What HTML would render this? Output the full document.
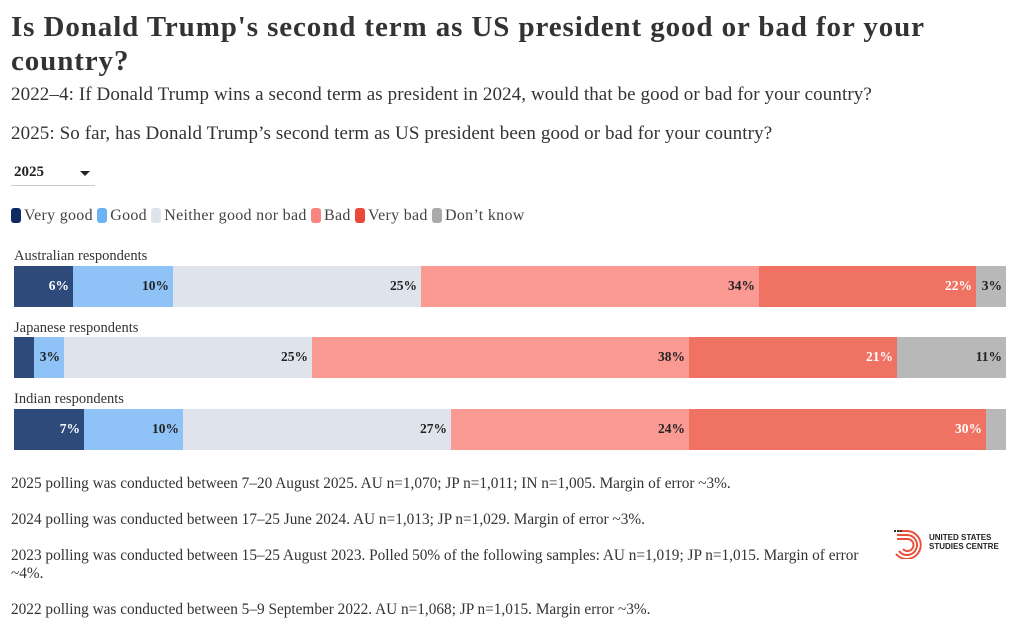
<!DOCTYPE html>
<html><head><meta charset="utf-8"><style>
body{margin:0;width:1020px;height:630px;background:#fff;font-family:"Liberation Serif",serif;color:#222;position:relative;overflow:hidden}
.a{position:absolute;white-space:nowrap}
.t{left:11px;top:10px;font-size:29px;letter-spacing:0.9px;font-weight:bold;line-height:34px;white-space:normal;width:960px;color:#333}
.s{left:11px;font-size:19px;letter-spacing:0.1px;color:#333}
.seg{position:absolute;height:41px}
.lab{position:absolute;font-size:13.5px;font-weight:bold;top:12px;right:4px}
.rl{font-size:14.5px;left:14px;color:#333}
.n{font-size:15.3px;left:11px;color:#333}
.sw{display:inline-block;width:10px;height:15px;border-radius:3px;vertical-align:-3px;margin-right:3px}
</style></head><body>
<div class="a t">Is Donald Trump's second term as US president good or bad for your country?</div>
<div class="a s" style="top:84px">2022–4: If Donald Trump wins a second term as president in 2024, would that be good or bad for your country?</div>
<div class="a s" style="top:123px">2025: So far, has Donald Trump’s second term as US president been good or bad for your country?</div>
<div class="a" style="left:14px;top:164px;font-size:15px;font-weight:bold">2025</div>
<div class="a" style="left:80px;top:171px;width:0;height:0;border-left:5px solid transparent;border-right:5px solid transparent;border-top:5px solid #222"></div>
<div class="a" style="left:11px;top:185px;width:84px;height:1px;background:#ccc"></div>
<div class="a" style="left:11px;top:207px;font-size:16px;letter-spacing:0.3px;color:#444">
<span class="sw" style="background:#0d2a63"></span>Very good <span class="sw" style="background:#6cb3f5"></span>Good <span class="sw" style="background:#dfe3ec"></span>Neither good nor bad <span class="sw" style="background:#f98580"></span>Bad <span class="sw" style="background:#e94a38"></span>Very bad <span class="sw" style="background:#aaa"></span>Don’t know</div>

<div class="a rl" style="top:248px">Australian respondents</div>
<div class="a rl" style="top:320px">Japanese respondents</div>
<div class="a rl" style="top:391px">Indian respondents</div>

<div style="position:absolute;top:266px;left:0">
<div class="seg" style="left:14px;width:59px;background:#2d4a7a"><span class="lab" style="color:#fff">6%</span></div>
<div class="seg" style="left:73px;width:100px;background:#8fc3f7"><span class="lab">10%</span></div>
<div class="seg" style="left:173px;width:248px;background:#dfe3ec"><span class="lab">25%</span></div>
<div class="seg" style="left:421px;width:338px;background:#fb9a93"><span class="lab">34%</span></div>
<div class="seg" style="left:759px;width:217px;background:#f07262"><span class="lab" style="color:#fff">22%</span></div>
<div class="seg" style="left:976px;width:30px;background:#b8b8b8"><span class="lab">3%</span></div>
</div>
<div style="position:absolute;top:337px;left:0">
<div class="seg" style="left:14px;width:20px;background:#2d4a7a"></div>
<div class="seg" style="left:34px;width:30px;background:#8fc3f7"><span class="lab">3%</span></div>
<div class="seg" style="left:64px;width:248px;background:#dfe3ec"><span class="lab">25%</span></div>
<div class="seg" style="left:312px;width:377px;background:#fb9a93"><span class="lab">38%</span></div>
<div class="seg" style="left:689px;width:208px;background:#f07262"><span class="lab" style="color:#fff">21%</span></div>
<div class="seg" style="left:897px;width:109px;background:#b8b8b8"><span class="lab">11%</span></div>
</div>
<div style="position:absolute;top:409px;left:0">
<div class="seg" style="left:14px;width:70px;background:#2d4a7a"><span class="lab" style="color:#fff">7%</span></div>
<div class="seg" style="left:84px;width:99px;background:#8fc3f7"><span class="lab">10%</span></div>
<div class="seg" style="left:183px;width:268px;background:#dfe3ec"><span class="lab">27%</span></div>
<div class="seg" style="left:451px;width:238px;background:#fb9a93"><span class="lab">24%</span></div>
<div class="seg" style="left:689px;width:297px;background:#f07262"><span class="lab" style="color:#fff">30%</span></div>
<div class="seg" style="left:986px;width:20px;background:#b8b8b8"></div>
</div>

<div class="a n" style="top:475px">2025 polling was conducted between 7–20 August 2025. AU n=1,070; JP n=1,011; IN n=1,005. Margin of error ~3%.</div>
<div class="a n" style="top:511px">2024 polling was conducted between 17–25 June 2024. AU n=1,013; JP n=1,029. Margin of error ~3%.</div>
<div class="a n" style="top:547px;white-space:normal;width:865px;line-height:18px">2023 polling was conducted between 15–25 August 2023. Polled 50% of the following samples: AU n=1,019; JP n=1,015. Margin of error ~4%.</div>
<div class="a n" style="top:601px">2022 polling was conducted between 5–9 September 2022. AU n=1,068; JP n=1,015. Margin error ~3%.</div>

<svg class="a" style="left:893px;top:529px" width="30" height="30" viewBox="0 0 30 30">
<g fill="none" stroke="#e8503a" stroke-width="2">
<path d="M4 10 H14 A6 6 0 1 1 10 20"/><path d="M4 6 H14 A10 10 0 1 1 6 22"/><path d="M4 2 H14 A14 14 0 1 1 3 25"/></g>
<g fill="#333"><rect x="1" y="1" width="2" height="2"/><rect x="4" y="1" width="2" height="2"/><rect x="7" y="1" width="2" height="2"/></g></svg>
<div class="a" style="left:929px;top:533px;font-family:'Liberation Sans',sans-serif;font-size:8px;font-weight:bold;line-height:9px;color:#222">UNITED STATES<br>STUDIES CENTRE</div>
</body></html>
